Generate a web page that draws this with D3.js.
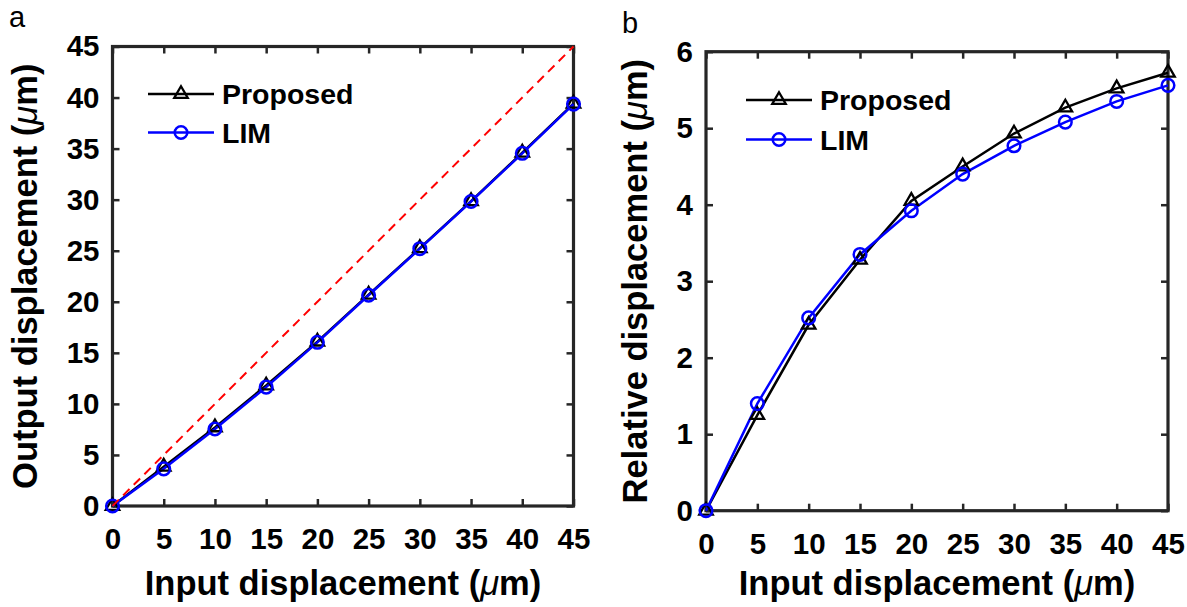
<!DOCTYPE html>
<html><head><meta charset="utf-8">
<script src="https://cdn.jsdelivr.net/npm/d3@7"></script>
<style>
html,body{margin:0;padding:0;background:#fff;}
svg{display:block;font-family:"Liberation Sans",Arial,Helvetica,sans-serif;}
</style></head>
<body><svg id="c" width="1187" height="607"></svg>
<script>
// ---- data ----
const inputX = [0, 5, 10, 15, 20, 25, 30, 35, 40, 45];
const outProposed = [0, 3.85, 7.7, 11.8, 16.1, 20.7, 25.25, 29.85, 34.6, 39.4];
const outLIM = [0, 3.64, 7.54, 11.64, 16.03, 20.64, 25.2, 29.82, 34.54, 39.36];
const relProposed = [0, 1.25, 2.43, 3.28, 4.05, 4.5, 4.93, 5.27, 5.52, 5.725];
const relLIM = [0, 1.4, 2.52, 3.35, 3.92, 4.4, 4.77, 5.08, 5.35, 5.56];
const xTicks = [0, 5, 10, 15, 20, 25, 30, 35, 40, 45];
const yTicksA = [0, 5, 10, 15, 20, 25, 30, 35, 40, 45];
const yTicksB = [0, 1, 2, 3, 4, 5, 6];
const seriesNames = ["Proposed", "LIM"];
const seriesColors = ["#000000", "#0000ff"];

const svg = d3.select("#c");
const axisColor = "#262626";
const fmt = d3.format("d");

function panel(opt) {
  const g = svg.append("g");
  const x = d3.scaleLinear().domain([0, 45]).range([opt.left, opt.right]);
  const y = d3.scaleLinear().domain(opt.yDomain).range([opt.bottom, opt.top]);
  const tl = 7;
  const bottom = g.append("g").attr("transform", `translate(0,${opt.bottom})`)
    .call(d3.axisBottom(x).tickValues(xTicks).tickFormat(fmt).tickSize(-tl).tickPadding(22));
  const top = g.append("g").attr("transform", `translate(0,${opt.top})`)
    .call(d3.axisTop(x).tickValues(xTicks).tickSize(-tl).tickFormat(""));
  const left = g.append("g").attr("transform", `translate(${opt.left},0)`)
    .call(d3.axisLeft(y).tickValues(opt.yTicks).tickFormat(fmt).tickSize(-tl).tickPadding(13));
  const right = g.append("g").attr("transform", `translate(${opt.right},0)`)
    .call(d3.axisRight(y).tickValues(opt.yTicks).tickSize(-tl).tickFormat(""));
  [bottom, top, left, right].forEach(a => {
    a.select(".domain").remove();
    a.selectAll(".tick line").attr("stroke", axisColor).attr("stroke-width", 2.5);
    a.selectAll(".tick text").attr("fill", "#000").attr("font-size", 29.5)
      .attr("font-weight", "bold").attr("font-family", '"Liberation Sans",Arial,sans-serif');
  });
  g.append("rect").attr("x", opt.left).attr("y", opt.top)
    .attr("width", opt.right - opt.left).attr("height", opt.bottom - opt.top)
    .attr("fill", "none").attr("stroke", axisColor).attr("stroke-width", 3.2);

  const line = d3.line().x((d, i) => x(inputX[i])).y(d => y(d));
  const data = [opt.s1, opt.s2];
  data.forEach((vals, si) => {
    g.append("path").datum(vals).attr("d", line).attr("fill", "none")
      .attr("stroke", seriesColors[si]).attr("stroke-width", 2.5);
  });
  data.forEach((vals, si) => {
    vals.forEach((v, i) => drawMarker(g, si, x(inputX[i]), y(v)));
  });
  if (opt.diag) {
    g.append("line").attr("x1", x(0)).attr("y1", y(0)).attr("x2", x(45)).attr("y2", y(45))
      .attr("stroke", "#ff0000").attr("stroke-width", 2).attr("stroke-dasharray", "9,6");
  }
  seriesNames.forEach((name, si) => {
    const ly = opt.legY + si * opt.legGap;
    g.append("line").attr("x1", opt.legX).attr("x2", opt.legX + 66).attr("y1", ly).attr("y2", ly)
      .attr("stroke", seriesColors[si]).attr("stroke-width", 2.5);
    drawMarker(g, si, opt.legX + 33, ly);
    g.append("text").attr("x", opt.legX + 74).attr("y", ly).attr("dy", "0.36em")
      .attr("font-size", 28.5).attr("font-weight", "bold").text(name);
  });
  const xt = g.append("text").attr("x", (opt.left + opt.right) / 2).attr("y", 595)
    .attr("text-anchor", "middle").attr("font-size", 34.5).attr("font-weight", "bold");
  xt.append("tspan").text("Input displacement (");
  xt.append("tspan").attr("font-style", "italic").attr("font-weight", "normal").text("μ");
  xt.append("tspan").text("m)");
  const yt = g.append("text")
    .attr("transform", `translate(${opt.yTitleX},${(opt.top + opt.bottom) / 2}) rotate(-90)`)
    .attr("text-anchor", "middle").attr("font-size", 34.5).attr("font-weight", "bold");
  yt.append("tspan").text(opt.yTitle + " (");
  yt.append("tspan").attr("font-style", "italic").attr("font-weight", "normal").text("μ");
  yt.append("tspan").text("m)");
  g.append("text").attr("x", opt.letterX).attr("y", opt.letterY).attr("font-size", 29)
    .text(opt.letter);
}

function drawMarker(g, si, cx, cy) {
  if (si === 0) {
    const s = 13.5, h = s * Math.sqrt(3) / 2;
    g.append("path")
      .attr("d", `M${cx},${cy - h * 2 / 3}L${cx + s / 2},${cy + h / 3}L${cx - s / 2},${cy + h / 3}Z`)
      .attr("fill", "none").attr("stroke", seriesColors[0]).attr("stroke-width", 2.3);
  } else {
    g.append("circle").attr("cx", cx).attr("cy", cy).attr("r", 6.3)
      .attr("fill", "none").attr("stroke", seriesColors[1]).attr("stroke-width", 2.5);
  }
}

panel({left: 112.5, right: 573.5, top: 46.5, bottom: 506, yDomain: [0, 45], yTicks: yTicksA,
  s1: outProposed, s2: outLIM, diag: true, legX: 148, legY: 94, legGap: 38.5,
  yTitle: "Output displacement", yTitleX: 37, letter: "a", letterX: 9, letterY: 27});
panel({left: 706, right: 1168, top: 51.7, bottom: 510.7, yDomain: [0, 6], yTicks: yTicksB,
  s1: relProposed, s2: relLIM, diag: false, legX: 746, legY: 100, legGap: 39.5,
  yTitle: "Relative displacement", yTitleX: 647, letter: "b", letterX: 622, letterY: 33});
</script></body></html>
